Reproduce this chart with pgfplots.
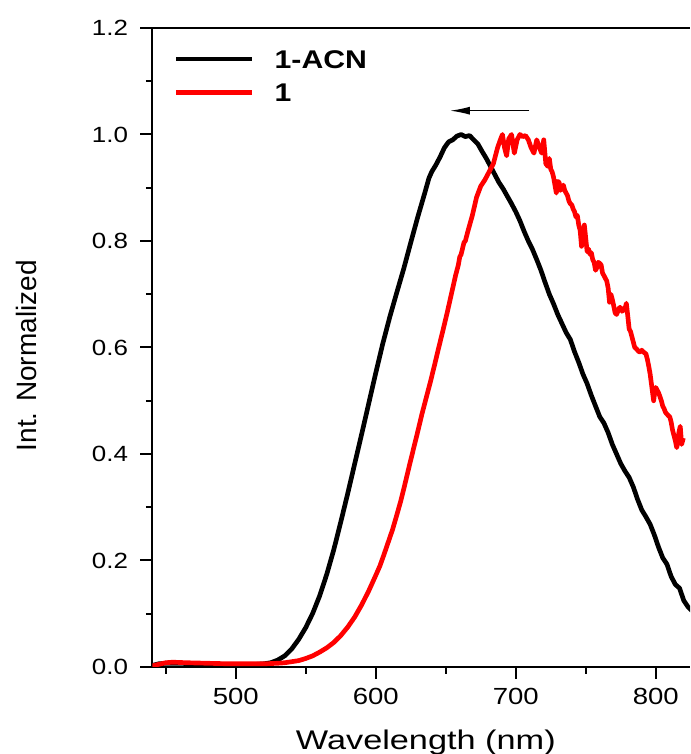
\documentclass[border=0pt]{standalone}
\usepackage{pgfplots}
\pgfplotsset{compat=1.18}
\usepackage{fontspec}
\setmainfont{Liberation Sans}
\newfontfamily\tickfont[FakeStretch=1.18]{Liberation Sans}
\newfontfamily\labfont[FakeStretch=1.27]{Liberation Sans}
\usetikzlibrary{arrows.meta}
\begin{document}
\begin{tikzpicture}
\begin{axis}[
  scale only axis,
  width=403.3pt, height=479.25pt,
  xmin=440.4, xmax=824.5, ymin=0, ymax=1.2,
  axis x line*=box, axis y line*=left,
  axis line style={line width=1.5pt},
  xtick={500,600,700,800}, minor xtick={450,550,650,750},
  ytick={0,0.2,0.4,0.6,0.8,1.0,1.2}, minor ytick={0.1,0.3,0.5,0.7,0.9,1.1},
  xtick pos=bottom, ytick pos=left,
  tick align=outside,
  major tick length=9pt, minor tick length=4.9pt,
  every tick/.style={line width=1.5pt, black},
  /pgf/number format/assume math mode=true,
  yticklabel style={font=\tickfont\fontsize{16.5}{20}\selectfont, inner sep=0pt, xshift=-9pt,
     /pgf/number format/.cd, fixed, fixed zerofill, precision=1},
  xticklabel style={font=\tickfont\fontsize{17.5}{20}\selectfont, inner sep=0pt, yshift=-6.75pt},
  xlabel={Wavelength (nm)},
  xlabel style={at={(rel axis cs:0.5087,-0.1288)}, anchor=base, inner sep=0pt, font=\labfont\fontsize{20.25}{24}\selectfont},
  ylabel={Int. Normalized},
  ylabel style={at={(rel axis cs:-0.2150,0.487)}, anchor=base, rotate=0, inner sep=0pt, font=\fontsize{21}{24}\selectfont},
  legend style={at={(rel axis cs:0.04035,0.96558)}, anchor=north west, draw=none, fill=none,
     inner sep=0pt, outer sep=0pt, font=\tickfont\bfseries\fontsize{19.2}{22}\selectfont,
     column sep=15pt, row sep=11.3pt,
     nodes={inner sep=0pt, text height=13.75pt, text depth=0pt, anchor=base west}},
  legend cell align=left,
  legend image code/.code={\draw[#1, line width=3.5pt] (0pt,6.9pt) -- (57pt,6.9pt);},
]
\addplot[black, line width=3.5pt, line join=round] coordinates {
(440.4,0.003)(445,0.006)(450,0.007)(460,0.007)(470,0.006)(480,0.006)(490,0.005)(500,0.005)(510,0.005)(515,0.005)(520,0.006)(525,0.008)(530,0.013)(535,0.021)(540,0.034)(545,0.052)(550,0.074)(555,0.101)(560,0.134)(565,0.174)(570,0.22)(575,0.272)(580,0.326)(585,0.382)(590,0.438)(595,0.495)(600,0.552)(605,0.607)(610,0.657)(615,0.703)(620,0.748)(625,0.797)(630,0.845)(635,0.89)(638,0.918)(640,0.93)(643,0.943)(646,0.958)(649,0.975)(652,0.986)(655,0.99)(658,0.997)(661,1.0)(664,0.996)(667,0.998)(670,0.99)(673,0.982)(676,0.968)(679,0.955)(682,0.94)(685,0.925)(688,0.91)(691,0.898)(694,0.884)(697,0.87)(700,0.855)(703,0.838)(706,0.818)(709,0.8)(712,0.784)(715,0.765)(718,0.745)(721,0.722)(724,0.7)(727,0.682)(730,0.662)(733,0.645)(736,0.628)(739,0.615)(742,0.592)(745,0.572)(748,0.55)(751,0.532)(754,0.51)(757,0.49)(760,0.47)(763,0.458)(766,0.44)(769,0.418)(772,0.4)(775,0.382)(778,0.368)(781,0.356)(784,0.338)(787,0.315)(790,0.295)(793,0.282)(796,0.268)(799,0.248)(802,0.225)(805,0.205)(808,0.193)(811,0.17)(814,0.155)(817,0.148)(820,0.125)(823,0.113)(826,0.105)
};
\addlegendentry{1-ACN}
\addplot[red, line width=3.5pt, line join=round] coordinates {
(440.4,0.002)(445,0.005)(450,0.008)(455,0.009)(465,0.008)(480,0.007)(495,0.006)(510,0.006)(520,0.006)(530,0.007)(535,0.008)(540,0.01)(545,0.012)(550,0.016)(555,0.021)(560,0.028)(565,0.036)(570,0.046)(575,0.059)(580,0.075)(585,0.094)(590,0.117)(595,0.143)(600,0.172)(603,0.19)(606,0.212)(609,0.235)(612,0.258)(615,0.285)(618,0.313)(621,0.345)(624,0.378)(627,0.41)(630,0.442)(633,0.475)(636,0.505)(639,0.535)(642,0.567)(645,0.6)(648,0.632)(651,0.665)(654,0.7)(657,0.735)(659,0.755)(660,0.77)(661,0.775)(663,0.797)(664,0.8)(666,0.82)(669,0.848)(672,0.882)(675,0.903)(678,0.915)(681,0.93)(684,0.945)(687,0.975)(689,0.99)(690.5,1.0)(692,0.975)(693.5,0.96)(695,0.992)(697,1.0)(699,0.965)(701,0.99)(703,1.0)(705,0.996)(707,0.998)(709,0.99)(711,0.975)(713,0.965)(715,0.99)(717,0.975)(718.5,0.965)
(720,0.99)(721.5,0.945)(723,0.94)(724,0.955)(725,0.935)(726,0.93)(727,0.92)(728,0.905)(729,0.89)(730,0.912)(731,0.91)(732,0.895)(733,0.9)(734,0.905)(735,0.895)(736,0.89)(737,0.885)(738,0.875)(739,0.87)(740,0.868)(741,0.86)(742,0.855)(743,0.845)(744,0.848)(745,0.83)(746,0.82)(747,0.79)(748,0.81)(749,0.83)(750,0.805)(751,0.78)(752,0.785)(753,0.775)(754,0.778)(755,0.765)(756,0.76)(757,0.745)(758,0.75)(759,0.76)(760,0.758)(761,0.755)(762,0.74)(763,0.735)(764,0.73)(765,0.725)(766,0.712)(767,0.685)(768,0.7)(769,0.69)(770,0.678)(771,0.665)(772,0.662)(773,0.668)(774,0.675)(775,0.675)(776,0.668)(777,0.67)(778,0.672)(779,0.683)(780,0.66)(781,0.635)(782,0.63)(783,0.62)(784,0.61)(785,0.6)(786,0.598)(787,0.595)(788,0.592)(789,0.592)(790,0.595)(791,0.592)(792,0.59)(793,0.588)(794,0.578)(795,0.565)(796,0.55)(797,0.53)(798,0.51)(798.5,0.5)(799,0.51)(800,0.525)(801,0.52)(802,0.515)(803,0.508)(804,0.5)(805,0.49)(806,0.485)(807,0.478)(808,0.475)(809,0.472)(810,0.47)(811,0.46)(812,0.445)(813,0.435)(814,0.425)(815,0.412)(816,0.425)(816.5,0.44)(817.5,0.452)(818.5,0.418)(819.7,0.43)
};
\addlegendentry{1}
\draw[-{Latex[length=15pt,width=6pt]}, line width=1pt] (axis cs:709.7,1.0447) -- (axis cs:653,1.0447);
\coordinate (bl) at (rel axis cs:-0.28324,-0.13615);
\coordinate (tr) at (rel axis cs:1,1.04382);
\end{axis}
\pgfresetboundingbox
\path[use as bounding box] (bl) rectangle (tr);
\end{tikzpicture}
\end{document}
